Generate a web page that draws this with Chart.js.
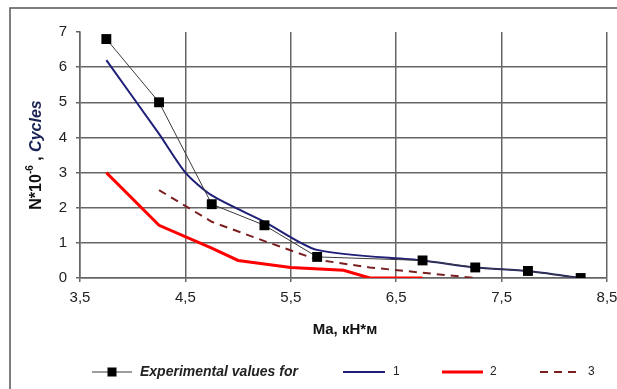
<!DOCTYPE html>
<html>
<head>
<meta charset="utf-8">
<script src="https://cdn.jsdelivr.net/npm/chart.js@4"></script>
<style>
  html, body { margin: 0; padding: 0; background: #fff; }
  #wrap { width: 617px; height: 389px; position: relative; }
</style>
</head>
<body>
<div id="wrap"><canvas id="chart" width="617" height="389"></canvas></div>
<script>
// moment Ma (kN*m) and cycles N*10^-6
const expX = [3.75, 4.25, 4.75, 5.25, 5.75, 6.75, 7.25, 7.75, 8.25]
const expY = [6.8, 5.0, 2.1, 1.5, 0.6, 0.5, 0.3, 0.2, 0.0]

const line1X = [3.75, 4.25, 4.5, 4.75, 5.25, 5.75, 6.75, 7.25, 7.75, 8.25]
const line1Y = [6.2, 4.1, 3.0, 2.35, 1.6, 0.8, 0.5, 0.3, 0.2, 0.0]

const line2X = [3.75, 4.25, 4.75, 5.0, 5.5, 6.0, 6.25, 6.75]
const line2Y = [3.0, 1.5, 0.85, 0.5, 0.3, 0.22, 0.0, 0.0]

const line3X = [4.25, 4.75, 5.25, 5.75, 6.25, 6.75, 7.25]
const line3Y = [2.5, 1.6, 1.05, 0.52, 0.3, 0.15, 0.0]

const xTicks = [3.5, 4.5, 5.5, 6.5, 7.5, 8.5]
const yTicks = [0, 1, 2, 3, 4, 5, 6, 7]

const legendLabels = ['Experimental values for', '1', '2', '3']

const toPoints = (xs, ys) => xs.map((x, i) => ({ x: x, y: ys[i] }))

const gridColor = '#666'
const fontFamily = '"Liberation Sans", Arial, sans-serif'

// titles, legend and outer frame
const decor = {
  id: 'decor',
  afterDraw(chart) {
    const c = chart.ctx
    const area = chart.chartArea
    c.save()

    // frame
    c.strokeStyle = '#555'
    c.lineWidth = 1.5
    c.beginPath()
    c.moveTo(10, 389)
    c.lineTo(10, 8)
    c.lineTo(617, 8)
    c.stroke()

    // x title
    c.fillStyle = '#111'
    c.font = 'bold 15px ' + fontFamily
    c.textAlign = 'center'
    c.textBaseline = 'middle'
    c.fillText('Ma, кН*м', 345, 330)

    // y title, rotated
    c.translate(35, (area.top + area.bottom) / 2)
    c.rotate(-Math.PI / 2)
    const p1 = 'N*10', sup = '-6', p2 = ' , ', p3 = 'Cycles'
    c.font = 'bold 16px ' + fontFamily
    const w1 = c.measureText(p1).width
    const w2 = c.measureText(p2).width
    c.font = 'bold 10px ' + fontFamily
    const ws = c.measureText(sup).width
    c.font = 'italic bold 16px ' + fontFamily
    const w3 = c.measureText(p3).width
    let x = -(w1 + ws + w2 + w3) / 2
    c.textAlign = 'left'
    c.textBaseline = 'alphabetic'
    c.fillStyle = '#111'
    c.font = 'bold 16px ' + fontFamily
    c.fillText(p1, x, 6); x += w1
    c.font = 'bold 10px ' + fontFamily
    c.fillText(sup, x, -2); x += ws
    c.font = 'bold 16px ' + fontFamily
    c.fillText(p2, x, 6); x += w2
    c.fillStyle = '#1c2455'
    c.font = 'italic bold 16px ' + fontFamily
    c.fillText(p3, x, 6)
    c.setTransform(1, 0, 0, 1, 0, 0)

    // legend
    const ly = 372
    const items = [
      { x0: 92, x1: 132, tx: 140, ds: 0 },
      { x0: 343, x1: 385, tx: 393, ds: 1 },
      { x0: 442, x1: 483, tx: 490, ds: 2 },
      { x0: 540, x1: 577, tx: 588, ds: 3 }
    ]
    items.forEach((it, i) => {
      const ds = chart.data.datasets[it.ds]
      c.strokeStyle = ds.borderColor
      c.lineWidth = ds.borderWidth
      c.setLineDash(ds.borderDash || [])
      c.beginPath()
      c.moveTo(it.x0, ly)
      c.lineTo(it.x1, ly)
      c.stroke()
      c.setLineDash([])
      if (i === 0) {
        c.fillStyle = '#000'
        c.fillRect((it.x0 + it.x1) / 2 - 4.5, ly - 4.5, 9, 9)
        c.font = 'italic bold 14px ' + fontFamily
      } else {
        c.font = '12px ' + fontFamily
      }
      c.fillStyle = '#222'
      c.textAlign = 'left'
      c.textBaseline = 'middle'
      c.fillText(legendLabels[i], it.tx, ly)
    })
    c.restore()
  }
}

new Chart(document.querySelector('#chart').getContext('2d'), {
  type: 'line',
  data: {
    datasets: [
      {
        label: legendLabels[0],
        data: toPoints(expX, expY),
        borderColor: '#3a3a3a',
        borderWidth: 1,
        pointStyle: 'rect',
        pointRadius: 7,
        pointBackgroundColor: '#000',
        pointBorderColor: '#000',
        pointBorderWidth: 0,
        order: 0
      },
      {
        label: legendLabels[1],
        data: toPoints(line1X, line1Y),
        borderColor: '#1f1f78',
        borderWidth: 2,
        pointRadius: 0,
        tension: 0.25,
        order: 1
      },
      {
        label: legendLabels[2],
        data: toPoints(line2X, line2Y),
        borderColor: '#ff0000',
        borderWidth: 3,
        pointRadius: 0,
        order: 2
      },
      {
        label: legendLabels[3],
        data: toPoints(line3X, line3Y),
        borderColor: '#7a1f1f',
        borderWidth: 2,
        borderDash: [8, 6],
        pointRadius: 0,
        order: 3
      }
    ]
  },
  options: {
    responsive: false,
    animation: false,
    layout: { padding: { left: 0, top: 32, right: 10, bottom: 0 } },
    plugins: { legend: { display: false }, tooltip: { enabled: false } },
    scales: {
      x: {
        type: 'linear',
        min: 3.5,
        max: 8.5,
        afterBuildTicks: s => { s.ticks = xTicks.map(v => ({ value: v })) },
        afterFit: s => { s.height = 111; s.paddingRight = 0; s.paddingLeft = 0 },
        ticks: {
          callback: v => v.toFixed(1).replace('.', ','),
          color: '#222',
          font: { family: fontFamily, size: 15 },
          padding: 7,
          maxRotation: 0
        },
        grid: { color: gridColor, lineWidth: 1.5, tickLength: 4, tickColor: gridColor },
        border: { color: gridColor, width: 1.5 }
      },
      y: {
        min: 0,
        max: 7,
        afterBuildTicks: s => { s.ticks = yTicks.map(v => ({ value: v })) },
        afterFit: s => { s.width = 80; s.paddingTop = 0; s.paddingBottom = 0 },
        ticks: {
          color: '#222',
          font: { family: fontFamily, size: 15 },
          padding: 9
        },
        grid: {
          color: ctx => (ctx.tick && ctx.tick.value === 7) ? 'rgba(0,0,0,0)' : gridColor,
          lineWidth: 1.5,
          tickLength: 4,
          tickColor: gridColor
        },
        border: { color: gridColor, width: 1.5 }
      }
    }
  },
  plugins: [decor]
})
</script>
</body>
</html>
